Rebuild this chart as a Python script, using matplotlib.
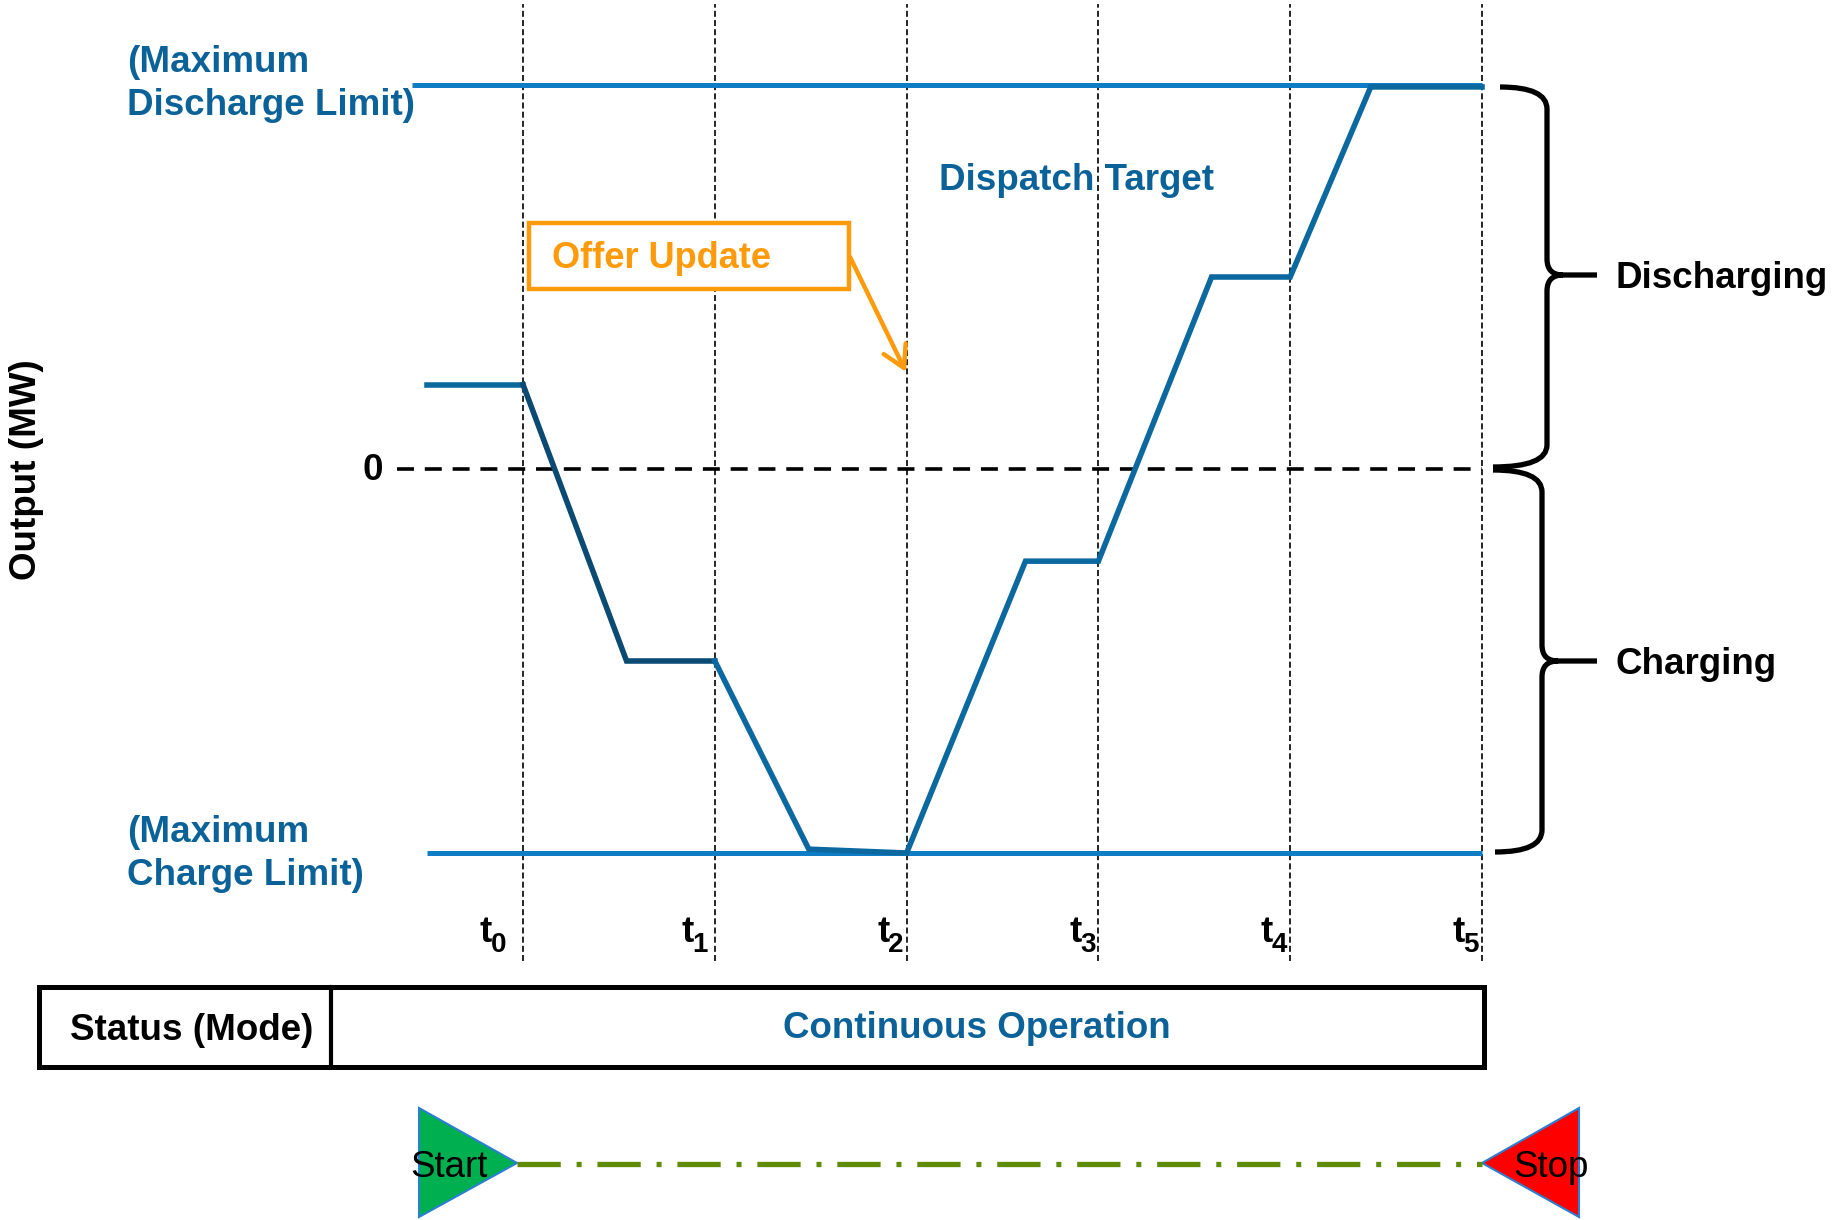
import matplotlib
matplotlib.use('Agg')
import matplotlib.pyplot as plt
from matplotlib.patches import Rectangle, Polygon, PathPatch
from matplotlib.path import Path

plt.rcParams['font.family'] = ['Liberation Sans', 'DejaVu Sans']
plt.rcParams['mathtext.fontset'] = 'custom'
plt.rcParams['mathtext.bf'] = 'Liberation Sans:bold'
plt.rcParams['mathtext.rm'] = 'Liberation Sans'

# ---------------------------------------------------------------------------
# data (x in dispatch intervals, y in % of max output)
interval_pos = [0, 1, 2, 3, 4, 5]
interval_labels = ['t%d' % i for i in interval_pos]
label_dx = [-17, -7, -3, -3, -3, -3]   # px shift of each t label

dispatch_t = [-0.5, 0, 0.54, 1, 1.49, 2, 2.62, 3, 3.59, 4, 4.42, 5]
dispatch_mw = [22, 22, -50, -50, -99, -100, -24, -24, 50, 50, 99.5, 99.5]

max_discharge = 100
max_charge = -100
zero_level = 0

# ---------------------------------------------------------------------------
BLUE_TXT = '#0b6298'
BLUE_LIM = '#0f7dc5'
BLUE_LINE = '#0b69a0'
NAVY = '#0b4a72'
ORANGE = '#ff9a0a'
OLIVE = '#5e8c06'
FS = 26.5

W, H = 1842, 1220
fig = plt.figure(figsize=(W / 100, H / 100), dpi=100)

# main axes: t0..t5 -> px 523..1482, +100..-100 -> px 85..853
X0, X5, YT, YB = 523, 1482, 85, 853
ax = fig.add_axes([X0 / W, 1 - YB / H, (X5 - X0) / W, (YB - YT) / H])
ax.set_xlim(0, 5)
ax.set_ylim(-100, 100)
ax.axis('off')

ax.vlines(interval_pos, -128, 121, colors='black', lw=1.2,
          linestyles=(0, (3.6, 1.9)), clip_on=False)
ax.hlines(zero_level, -0.657, 5, colors='black', lw=2.6,
          linestyles=(0, (4.7, 3.0)), clip_on=False)
ax.hlines(max_discharge, -0.58, 5, colors=BLUE_LIM, lw=3.6, clip_on=False)
ax.hlines(max_charge, -0.5, 5, colors=BLUE_LIM, lw=3.6, clip_on=False)

ax.plot(dispatch_t[:2], dispatch_mw[:2], color=BLUE_LINE, lw=4,
        solid_joinstyle='miter', clip_on=False)
ax.plot(dispatch_t[1:4], dispatch_mw[1:4], color=NAVY, lw=4,
        solid_joinstyle='miter', clip_on=False)
ax.plot(dispatch_t[3:], dispatch_mw[3:], color=BLUE_LINE, lw=4,
        solid_joinstyle='miter', clip_on=False)

# ---------------------------------------------------------------------------
# overlay in pixel coordinates for labels and decorations
deco = fig.add_axes([0, 0, 1, 1])
deco.set_xlim(0, W)
deco.set_ylim(H, 0)
deco.axis('off')

for t, lab, dx in zip(interval_pos, interval_labels, label_dx):
    px = X0 + t * (X5 - X0) / 5 + dx
    deco.text(px, 952, lab[1:], fontsize=20, fontweight='bold',
              ha='right', va='baseline')
    deco.text(px - 14, 942, lab[0], fontsize=FS, fontweight='bold',
              ha='right', va='baseline')

deco.text(127, 84, '(Maximum\nDischarge Limit)', fontsize=FS, fontweight='bold',
          color=BLUE_TXT, ha='left', va='center', linespacing=1.33)
deco.text(127, 854, '(Maximum\nCharge Limit)', fontsize=FS, fontweight='bold',
          color=BLUE_TXT, ha='left', va='center', linespacing=1.33)
deco.text(373, 471, '0', fontsize=FS, fontweight='bold', ha='center', va='center')
deco.text(26, 470, 'Output (MW)', fontsize=FS, fontweight='bold', rotation=90,
          ha='center', va='center')
deco.text(1076, 180, 'Dispatch Target', fontsize=FS, fontweight='bold',
          color=BLUE_TXT, ha='center', va='center')

# offer update callout
deco.add_patch(Rectangle((529, 223), 320, 66, fc='white', ec=ORANGE, lw=3.2))
deco.text(552, 258, 'Offer Update', fontsize=26, fontweight='bold',
          color=ORANGE, ha='left', va='center')
deco.annotate('', xy=(906, 372), xytext=(850, 257),
              arrowprops=dict(arrowstyle='->,head_length=0.7,head_width=0.4',
                              color=ORANGE, lw=3.2, mutation_scale=22,
                              shrinkA=0, shrinkB=0))


# curly braces on the right
def brace(a, xs, y0, y1, ym, xe0, xe1, tip, r=22, rc=16):
    verts = [(xe0, y0), (xs, y0), (xs, y0 + r),
             (xs, ym - rc), (xs, ym), (xs + rc, ym), (tip, ym),
             (xs + rc, ym), (xs, ym), (xs, ym + rc),
             (xs, y1 - r), (xs, y1), (xe1, y1)]
    codes = [Path.MOVETO, Path.CURVE3, Path.CURVE3,
             Path.LINETO, Path.CURVE3, Path.CURVE3, Path.LINETO,
             Path.MOVETO, Path.CURVE3, Path.CURVE3,
             Path.LINETO, Path.CURVE3, Path.CURVE3]
    a.add_patch(PathPatch(Path(verts, codes), fill=False, lw=3.8,
                          ec='black', joinstyle='round', capstyle='butt'))


brace(deco, 1547, 87, 467, 275, 1500, 1493, 1597)
brace(deco, 1542, 470, 852, 661, 1493, 1495, 1597)
deco.text(1615, 279, 'Discharging', fontsize=FS, fontweight='bold',
          ha='left', va='center')
deco.text(1615, 664, 'Charging', fontsize=FS, fontweight='bold',
          ha='left', va='center')

# status bar
deco.add_patch(Rectangle((39, 987), 1445, 80, fc='none', ec='black', lw=3.6))
deco.plot([331, 331], [987, 1067], color='black', lw=3)
deco.text(192, 1031, 'Status (Mode)', fontsize=FS, fontweight='bold',
          ha='center', va='center')
deco.text(977, 1029, 'Continuous Operation', fontsize=FS, fontweight='bold',
          color=BLUE_TXT, ha='center', va='center')

# start / stop markers
deco.plot([517, 1482], [1164, 1164], color=OLIVE, lw=3.8,
          linestyle=(0, (8.2, 3.0, 0.95, 3.0)), solid_capstyle='butt')
deco.add_patch(Polygon([(419, 1108), (419, 1217), (517, 1163)], closed=True,
                       fc='#00b050', ec='#2a7fd0', lw=1.5))
deco.add_patch(Polygon([(1579, 1108), (1579, 1217), (1482, 1163)], closed=True,
                       fc='#ff0000', ec='#2a7fd0', lw=1.5))
deco.text(410, 1177, 'Start', fontsize=FS, ha='left', va='baseline')
deco.text(1513, 1177, 'Stop', fontsize=FS, ha='left', va='baseline')

fig.savefig('out.png', dpi=100)
